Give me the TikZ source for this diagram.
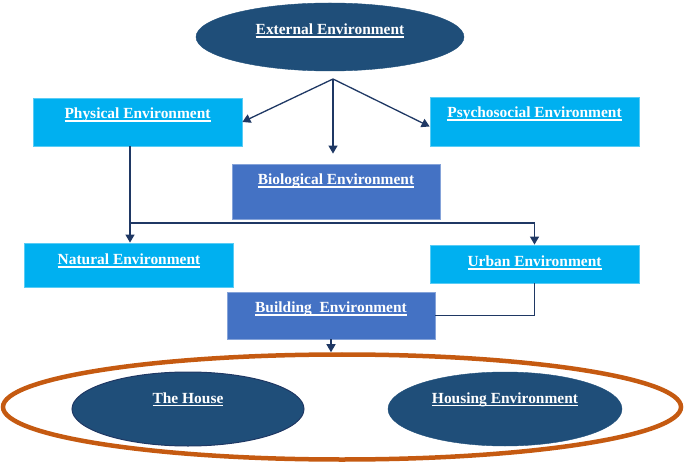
\documentclass[tikz,border=0pt]{standalone}
\usepackage{fontspec}
\setmainfont{Liberation Serif}
\usetikzlibrary{arrows.meta,shapes.geometric}
\definecolor{darkcell}{HTML}{1F4E79}
\definecolor{skycell}{HTML}{00B0F0}
\definecolor{midcell}{HTML}{4472C4}
\definecolor{navyline}{HTML}{1F3864}
\definecolor{rimorange}{HTML}{C55A11}
\newcommand{\underlbl}[1]{\setbox0\hbox{#1}\rlap{\rule[-2.6bp]{\wd0}{1.1bp}}\box0}
\begin{document}
\begin{tikzpicture}[x=1bp,y=-1bp,
    lbl/.style={text=white,inner sep=0pt,font=\bfseries\fontsize{15.5}{18}\selectfont},
    skybox/.style={lbl,rectangle,fill=skycell,draw=white!35!skycell,line width=0.8bp,minimum width=209bp,text height=21bp,text depth=#1},
    midbox/.style={lbl,rectangle,fill=midcell,draw=white!35!midcell,line width=0.8bp,minimum width=208bp,text height=21bp,text depth=#1},
    oval/.style={lbl,ellipse,fill=darkcell,draw=darkcell},
    link/.style={draw=navyline,line width=1.3bp},
    tip/.style={link,-{Triangle[width=9bp,length=8bp]}}]
    \useasboundingbox (0,0) rectangle (685,464);
    % top ellipse
    \node[oval,minimum width=268bp,minimum height=68bp,text height=10bp,text depth=14bp] (ext) at (330,37) {\underlbl{External Environment}};
    \coordinate (fork) at (333,79);
    % boxes
    \node[skybox=27bp] (phys) at (137.5,122) {\underlbl{Physical Environment}};
    \node[skybox=28bp] (psy) at (534.5,121.5) {\underlbl{Psychosocial Environment}};
    \node[midbox=34bp] (bio) at (336,191.5) {\underlbl{Biological Environment}};
    \node[skybox=22bp,text height=22bp] (natural) at (129,265) {\underlbl{Natural Environment}};
    \node[skybox=16bp,text height=22bp] (urban) at (534.5,264) {\underlbl{Urban Environment}};
    \node[midbox=26bp] (build) at (331,315.5) {\underlbl{Building\ \ Environment}};
    % bottom group
    \node[ellipse,draw=rimorange,line width=4.5bp,minimum width=678bp,minimum height=105bp] (dwell) at (342,407) {};
    \node[oval,draw=navyline,line width=1bp,minimum width=232bp,minimum height=74bp,text height=10bp,text depth=22bp] (house) at (188,409) {\underlbl{The House}};
    \node[oval,minimum width=234bp,minimum height=74bp,text height=10bp,text depth=22bp] (housing) at (505,409) {\underlbl{Housing Environment}};
    % connectors
    \draw[tip] (fork) -- (phys.east);
    \draw[tip] (fork) -- ([yshift=-5bp]psy.west);
    \draw[tip,shorten >=10bp] (fork) -- (fork |- bio.north);
    \coordinate (split) at (130,223);
    \draw[tip] (phys.south -| split) -- (split |- natural.north);
    \draw[tip] (split) -| (urban.north);
    \draw[link] (urban.south) |- (build.east);
    \draw[tip] (build.south) -- (build.south |- dwell.north);
\end{tikzpicture}
\end{document}
